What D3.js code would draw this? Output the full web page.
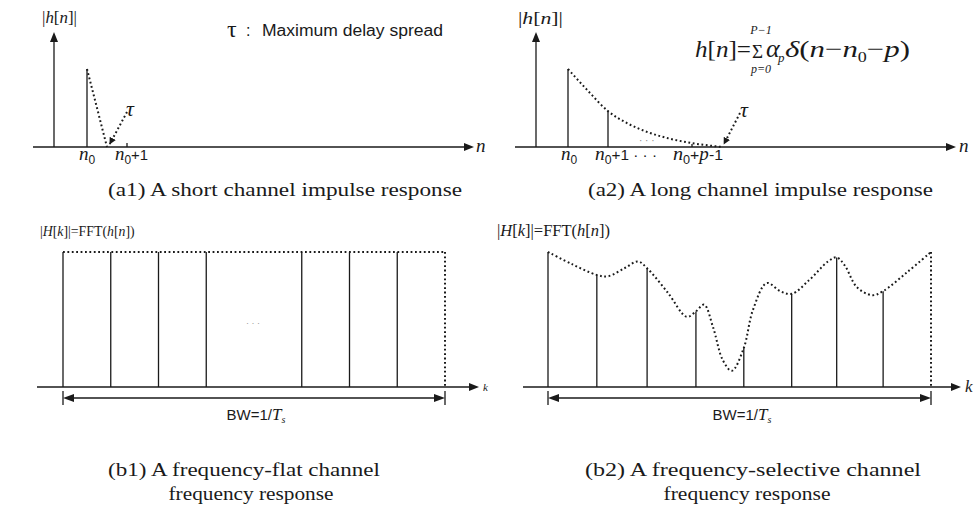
<!DOCTYPE html>
<html><head><meta charset="utf-8">
<script src="https://cdn.jsdelivr.net/npm/d3@7/dist/d3.min.js"></script>
<style>body{margin:0;background:#fff}svg{display:block}</style>
</head><body><svg id="c" width="976" height="506"></svg>
<script>
// ---------- data ----------
const a1Stems = [{n: 0, amp: 1}];
const a1Envelope = [[0, 1], [0.5, 0]];
const a1Ticks = [1];
const a2Stems = [{n: 0, amp: 1}, {n: 1, amp: 0.46}, {n: 3.1, amp: 0.04}];
const a2Envelope = [[0, 1], [0.5, 0.72], [1, 0.46], [1.5, 0.3], [2.05, 0.18], [2.6, 0.1], [3.1, 0.05], [3.85, 0]];
const b1StemK = [0, 1, 2, 3, 5, 6, 7];
const b1EdgeK = 8;
const b1Level = 1;
const b2StemK = [0, 1.02, 2.07, 3.09, 4.09, 5.09, 6.03, 7.0];
const b2StemAmp = [1.0, 0.83, 0.88, 0.56, 0.29, 0.69, 0.96, 0.71];
const b2EdgeK = 8;
const b2EdgeAmp = 1.0;
const b2Curve = [[0, 1.0], [0.5, 0.91], [1.02, 0.83], [1.25, 0.82], [1.6, 0.88], [1.88, 0.93], [2.07, 0.88], [2.5, 0.7],
  [2.9, 0.52], [3.09, 0.56], [3.26, 0.61], [3.45, 0.44], [3.65, 0.2], [3.84, 0.12], [4.09, 0.29], [4.28, 0.57],
  [4.57, 0.77], [4.85, 0.71], [5.09, 0.69], [5.45, 0.79], [5.85, 0.93], [6.03, 0.96], [6.2, 0.9], [6.45, 0.74],
  [6.77, 0.68], [7.0, 0.71], [7.5, 0.85], [8, 1.0]];
const captions = ["(a1) A short channel impulse response", "(a2) A long channel impulse response",
  "(b1) A frequency-flat channel", "frequency response", "(b2) A frequency-selective channel", "frequency response"];

// ---------- drawing ----------
const svg = d3.select("#c");
const SERIF = "Liberation Serif, Times New Roman, serif";
const SANS = "Liberation Sans, Arial, sans-serif";
const INK = "#1a1a1a";
const DOT = "1.8,2.6";

svg.append("defs").append("marker").attr("id", "tip").attr("viewBox", "0 0 10 10")
  .attr("refX", 9).attr("refY", 5).attr("markerWidth", 7).attr("markerHeight", 7)
  .attr("markerUnits", "userSpaceOnUse").attr("orient", "auto")
  .append("path").attr("d", "M0,0L10,5L0,10z").attr("fill", INK);

function tri(x, y, dir, len = 10, hw = 4) {
  let p;
  if (dir === "r") p = [[x, y], [x - len, y - hw], [x - len, y + hw]];
  if (dir === "l") p = [[x, y], [x + len, y - hw], [x + len, y + hw]];
  if (dir === "u") p = [[x, y], [x - hw, y + len], [x + hw, y + len]];
  svg.append("path").attr("d", "M" + p.map(d => d.join(",")).join("L") + "Z").attr("fill", INK);
}
function line(x1, y1, x2, y2, w = 1.3, dash = null) {
  const l = svg.append("line").attr("x1", x1).attr("y1", y1).attr("x2", x2).attr("y2", y2)
    .attr("stroke", INK).attr("stroke-width", w);
  if (dash) l.attr("stroke-dasharray", dash);
  return l;
}

// ===== (a1) =====
const yA = d3.scaleLinear().domain([0, 1]).range([147, 69]);
const xA1 = d3.scaleLinear().domain([0, 1]).range([87, 127]);
line(33, yA(0), 468, yA(0)); tri(474, yA(0), "r");
line(54, yA(0), 54, 40); tri(54, 32, "u");
svg.selectAll(".a1s").data(a1Stems).enter().append("line")
  .attr("x1", d => xA1(d.n)).attr("x2", d => xA1(d.n)).attr("y1", yA(0)).attr("y2", d => yA(d.amp))
  .attr("stroke", INK).attr("stroke-width", 1.3);
svg.append("path").attr("d", d3.line().x(d => xA1(d[0])).y(d => yA(d[1]))(a1Envelope))
  .attr("fill", "none").attr("stroke", INK).attr("stroke-width", 2).attr("stroke-dasharray", DOT);
svg.selectAll(".a1t").data(a1Ticks).enter().append("line")
  .attr("x1", d => xA1(d)).attr("x2", d => xA1(d)).attr("y1", yA(0) - 4).attr("y2", yA(0))
  .attr("stroke", INK).attr("stroke-width", 1.3);
line(127, 112, xA1(0.52) + 2, 144, 2, DOT).attr("marker-end", "url(#tip)");
svg.append("text").attr("x", 126).attr("y", 116).attr("font-family", SERIF).attr("font-style", "italic")
  .attr("font-size", 22).attr("fill", INK).text("τ");
function hLabel(x, y, size, tl) {
  const t = svg.append("text").attr("x", x).attr("y", y).attr("font-family", SERIF).attr("font-size", size).attr("fill", INK);
  t.append("tspan").text("|");
  t.append("tspan").attr("font-style", "italic").text("h");
  t.append("tspan").text("[");
  t.append("tspan").attr("font-style", "italic").text("n");
  t.append("tspan").text("]|");
  if (tl) t.attr("textLength", tl).attr("lengthAdjust", "spacingAndGlyphs");
}
hLabel(42, 23, 16, 35);
svg.append("text").attr("x", 476).attr("y", 152).attr("font-family", SERIF).attr("font-style", "italic")
  .attr("font-size", 19).attr("fill", INK).text("n");
function nLabel(x, y, rest, tl) {
  const t = svg.append("text").attr("x", x).attr("y", y).attr("fill", INK);
  t.append("tspan").attr("font-family", SERIF).attr("font-style", "italic").attr("font-size", 19).text("n");
  t.append("tspan").attr("font-family", SANS).attr("font-size", 12).attr("dy", 4).text("0");
  if (rest) {
    const r = t.append("tspan").attr("font-family", SANS).attr("font-size", 15).attr("dy", -4);
    rest.forEach(s => {
      r.append("tspan").attr("font-style", s.i ? "italic" : null).attr("font-family", s.i ? SERIF : SANS)
        .attr("font-size", s.i ? 18 : 15).text(s.t);
    });
  }
  if (tl) t.attr("textLength", tl).attr("lengthAdjust", "spacingAndGlyphs");
}
nLabel(79, 160, null);
nLabel(115, 160, [{t: "+1"}], 33);
svg.append("text").attr("x", 227).attr("y", 37).attr("font-family", SERIF).attr("font-size", 24).attr("fill", INK).text("τ");
svg.append("text").attr("x", 246).attr("y", 36).attr("font-family", SANS).attr("font-size", 16).attr("fill", INK).text(":");
svg.append("text").attr("x", 262).attr("y", 36).attr("font-family", SANS).attr("font-size", 16).attr("fill", INK)
  .attr("textLength", 181).attr("lengthAdjust", "spacingAndGlyphs").text("Maximum delay spread");
svg.append("text").attr("x", 108).attr("y", 196).attr("font-family", SERIF).attr("font-size", 19).attr("fill", INK)
  .attr("textLength", 354).attr("lengthAdjust", "spacingAndGlyphs").text(captions[0]);

// ===== (a2) =====
const xA2 = d3.scaleLinear().domain([0, 1]).range([568, 608]);
line(515, yA(0), 950, yA(0)); tri(956, yA(0), "r");
line(536, yA(0), 536, 40); tri(536, 32, "u");
svg.selectAll(".a2s").data(a2Stems).enter().append("line")
  .attr("x1", d => xA2(d.n)).attr("x2", d => xA2(d.n)).attr("y1", yA(0)).attr("y2", d => yA(d.amp))
  .attr("stroke", INK).attr("stroke-width", 1.3);
svg.append("path").attr("d", d3.line().x(d => xA2(d[0])).y(d => yA(d[1])).curve(d3.curveMonotoneX)(a2Envelope))
  .attr("fill", "none").attr("stroke", INK).attr("stroke-width", 2).attr("stroke-dasharray", DOT);
svg.append("text").attr("x", 639).attr("y", 144).attr("font-family", SANS).attr("font-size", 10).attr("fill", "#888").text("· · ·");
line(740, 113, xA2(3.85) + 2, 144, 2, DOT).attr("marker-end", "url(#tip)");
svg.append("text").attr("x", 740).attr("y", 117).attr("font-family", SERIF).attr("font-style", "italic")
  .attr("font-size", 22).attr("fill", INK).text("τ");
hLabel(518, 24, 17, 45);
svg.append("text").attr("x", 959).attr("y", 152).attr("font-family", SERIF).attr("font-style", "italic")
  .attr("font-size", 19).attr("fill", INK).text("n");
nLabel(561, 160, null);
nLabel(595, 160, [{t: "+1 · · ·"}], 62);
nLabel(673, 160, [{t: "+"}, {t: "p", i: true}, {t: "-1"}], 50);
const f1 = svg.append("text").attr("x", 695).attr("y", 57).attr("font-family", SERIF).attr("font-size", 24).attr("fill", INK)
  .attr("textLength", 56).attr("lengthAdjust", "spacingAndGlyphs");
f1.append("tspan").attr("font-style", "italic").text("h");
f1.append("tspan").text("[");
f1.append("tspan").attr("font-style", "italic").text("n");
f1.append("tspan").text("]=");
svg.append("text").attr("x", 752).attr("y", 58).attr("font-family", SERIF).attr("font-size", 19).attr("fill", INK).text("Σ");
svg.append("text").attr("x", 761).attr("y", 34).attr("text-anchor", "middle").attr("font-family", SERIF).attr("font-style", "italic")
  .attr("font-size", 12).attr("fill", INK).text("P−1");
svg.append("text").attr("x", 761).attr("y", 73).attr("text-anchor", "middle").attr("font-family", SERIF).attr("font-style", "italic")
  .attr("font-size", 12).attr("fill", INK).text("p=0");
svg.append("text").attr("x", 766).attr("y", 57).attr("font-family", SERIF).attr("font-style", "italic").attr("font-size", 26).attr("fill", INK).text("α");
svg.append("text").attr("x", 778).attr("y", 62).attr("font-family", SERIF).attr("font-style", "italic").attr("font-size", 13).attr("fill", INK).text("p");
const f2 = svg.append("text").attr("x", 785).attr("y", 57).attr("font-family", SERIF).attr("font-size", 24).attr("fill", INK)
  .attr("textLength", 125).attr("lengthAdjust", "spacingAndGlyphs");
f2.append("tspan").attr("font-style", "italic").text("δ");
f2.append("tspan").text("(");
f2.append("tspan").attr("font-style", "italic").text("n");
f2.append("tspan").text("−");
f2.append("tspan").attr("font-style", "italic").text("n");
f2.append("tspan").attr("font-size", 14).attr("dy", 5).text("0");
f2.append("tspan").attr("dy", -5).text("−");
f2.append("tspan").attr("font-style", "italic").text("p");
f2.append("tspan").text(")");
svg.append("text").attr("x", 588).attr("y", 196).attr("font-family", SERIF).attr("font-size", 19).attr("fill", INK)
  .attr("textLength", 345).attr("lengthAdjust", "spacingAndGlyphs").text(captions[1]);

// ===== (b1) =====
const yB = d3.scaleLinear().domain([0, 1]).range([387, 252]);
const xB1 = d3.scaleLinear().domain([0, 8]).range([63, 445]);
line(37, yB(0), 473, yB(0)); tri(479, yB(0), "r");
svg.selectAll(".b1s").data(b1StemK).enter().append("line")
  .attr("x1", d => xB1(d)).attr("x2", d => xB1(d)).attr("y1", yB(0)).attr("y2", yB(b1Level))
  .attr("stroke", INK).attr("stroke-width", 1.3);
line(xB1(0), yB(b1Level), xB1(b1EdgeK), yB(b1Level), 2, DOT);
line(xB1(b1EdgeK), yB(b1Level), xB1(b1EdgeK), yB(0), 2, DOT);
svg.append("text").attr("x", 246).attr("y", 326).attr("font-family", SANS).attr("font-size", 9).attr("fill", "#999").text("· · ·");
function labelH(x, y, size) {
  const t = svg.append("text").attr("x", x).attr("y", y).attr("font-family", SERIF).attr("font-size", size).attr("fill", INK);
  t.append("tspan").text("|");
  t.append("tspan").attr("font-style", "italic").text("H");
  t.append("tspan").text("[");
  t.append("tspan").attr("font-style", "italic").text("k");
  t.append("tspan").text("]|=FFT(");
  t.append("tspan").attr("font-style", "italic").text("h");
  t.append("tspan").text("[");
  t.append("tspan").attr("font-style", "italic").text("n");
  t.append("tspan").text("])");
}
labelH(40, 236, 13.8);
svg.append("text").attr("x", 483).attr("y", 391).attr("font-family", SERIF).attr("font-style", "italic")
  .attr("font-size", 11).attr("fill", INK).text("k");
function bwArrow(x0, x1, cx) {
  const y = 398;
  line(x0 + 4, y, x1 - 4, y);
  tri(x0, y, "l", 11, 4); tri(x1, y, "r", 11, 4);
  line(x0, y - 7, x0, y + 7); line(x1, y - 7, x1, y + 7);
  const t = svg.append("text").attr("x", cx).attr("y", 420).attr("text-anchor", "middle").attr("fill", INK);
  t.append("tspan").attr("font-family", SANS).attr("font-size", 15).text("BW=1/");
  t.append("tspan").attr("font-family", SERIF).attr("font-style", "italic").attr("font-size", 17).text("T");
  t.append("tspan").attr("font-family", SERIF).attr("font-style", "italic").attr("font-size", 10).attr("dy", 3).text("s");
}
bwArrow(xB1(0), xB1(b1EdgeK), 256);
svg.append("text").attr("x", 244).attr("y", 476).attr("text-anchor", "middle").attr("font-family", SERIF).attr("font-size", 18)
  .attr("fill", INK).attr("textLength", 272).attr("lengthAdjust", "spacingAndGlyphs").text(captions[2]);
svg.append("text").attr("x", 251).attr("y", 500).attr("text-anchor", "middle").attr("font-family", SERIF).attr("font-size", 18)
  .attr("fill", INK).attr("textLength", 165).attr("lengthAdjust", "spacingAndGlyphs").text(captions[3]);

// ===== (b2) =====
const xB2 = d3.scaleLinear().domain([0, 8]).range([548, 931]);
line(523, yB(0), 955, yB(0)); tri(961, yB(0), "r");
svg.selectAll(".b2s").data(b2StemK).enter().append("line")
  .attr("x1", d => xB2(d)).attr("x2", d => xB2(d)).attr("y1", yB(0)).attr("y2", (d, i) => yB(b2StemAmp[i]))
  .attr("stroke", INK).attr("stroke-width", 1.3);
line(xB2(b2EdgeK), yB(b2EdgeAmp), xB2(b2EdgeK), yB(0), 2, DOT);
svg.append("path").attr("d", d3.line().x(d => xB2(d[0])).y(d => yB(d[1])).curve(d3.curveCatmullRom.alpha(0.5))(b2Curve))
  .attr("fill", "none").attr("stroke", INK).attr("stroke-width", 2).attr("stroke-dasharray", DOT);
labelH(497, 236, 16.5);
svg.append("text").attr("x", 965).attr("y", 392).attr("font-family", SERIF).attr("font-style", "italic")
  .attr("font-size", 17).attr("fill", INK).text("k");
bwArrow(xB2(0), xB2(b2EdgeK), 742);
svg.append("text").attr("x", 753).attr("y", 476).attr("text-anchor", "middle").attr("font-family", SERIF).attr("font-size", 18)
  .attr("fill", INK).attr("textLength", 336).attr("lengthAdjust", "spacingAndGlyphs").text(captions[4]);
svg.append("text").attr("x", 747).attr("y", 500).attr("text-anchor", "middle").attr("font-family", SERIF).attr("font-size", 18)
  .attr("fill", INK).attr("textLength", 167).attr("lengthAdjust", "spacingAndGlyphs").text(captions[5]);
</script></body></html>
